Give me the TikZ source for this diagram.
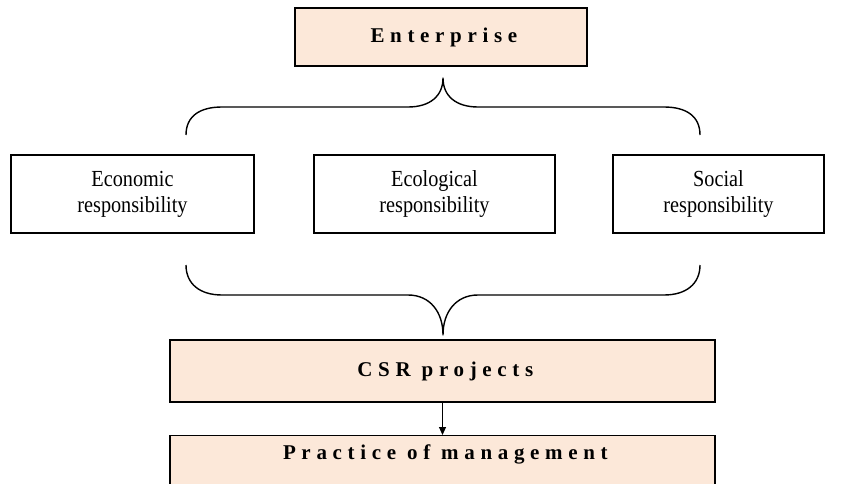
\documentclass[tikz,border=0pt]{standalone}
\usepackage{fontspec}
\setmainfont{Liberation Serif}
\newfontfamily\spacedserif[LetterSpace=27]{Liberation Serif}
\newfontfamily\narrowserif[FakeStretch=0.88]{Liberation Serif}
\usetikzlibrary{arrows.meta}
\definecolor{peach}{HTML}{FCE8D9}
% drop the letter space left after the last character
\newcommand{\trimtail}{\kern-.27em}
\begin{document}
\begin{tikzpicture}[x=1pt,y=-1pt,
  box/.style={draw=black,line width=1.4pt,inner sep=0pt,align=center},
  headbox/.style={box,fill=peach,font=\spacedserif\bfseries\fontsize{21}{25}\selectfont},
  respbox/.style={box,minimum height=78pt,font=\narrowserif\fontsize{23}{26}\selectfont},
  brace/.style={line width=1.4pt,line join=round},
  flow/.style={line width=1pt,-{Triangle[length=8pt,width=7pt]}}]
\useasboundingbox (0,0) rectangle (843,484);
\clip (0,0) rectangle (843,484);

% top level
\node[headbox,minimum width=292pt,minimum height=58pt] (ent) at (441,37) {Enterprise\trimtail};

% the three responsibilities
\node[respbox,minimum width=243pt] (eco) at (132.5,194) {Economic\\responsibility};
\node[respbox,minimum width=241pt] (ecl) at (434.5,194) {Ecological\\responsibility};
\node[respbox,minimum width=211pt] (soc) at (718.5,194) {Social\\responsibility};

% projects and practice
\node[headbox,minimum width=545pt,minimum height=62pt] (csr) at (442.5,371) {CSR projects\trimtail};
\node[headbox,minimum width=545pt,anchor=north,text height=24pt,text depth=60pt]
  (pom) at (442.5,435) {Practice of management\trimtail};

% brace opening downwards from the enterprise
\coordinate (ttip) at (443,78);
\draw[brace] (186,135) .. controls (186,116) and (200,107) .. (222,107) -- (408,107)
  .. controls (430,107) and (443,96) .. (ttip)
  .. controls (443,96) and (456,107) .. (478,107) -- (664,107)
  .. controls (686,107) and (700,116) .. (700,135);

% brace gathering the responsibilities
\coordinate (btip) at (443,335);
\draw[brace] (186,265) .. controls (186,284) and (200,295) .. (222,295) -- (408,295)
  .. controls (430,295) and (443,312) .. (btip)
  .. controls (443,312) and (456,295) .. (478,295) -- (664,295)
  .. controls (686,295) and (700,284) .. (700,265);

\draw[flow] (csr) -- (pom);
\end{tikzpicture}
\end{document}
